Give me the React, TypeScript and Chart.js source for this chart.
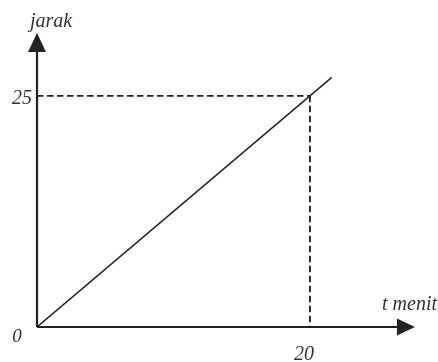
import React, { useEffect, useRef } from "react";
import { Chart, registerables } from "chart.js";

Chart.register(...registerables);

// Data
const lineT = [0, 21.6];
const lineJarak = [0, 27];
const refT = 20;
const refJarak = 25;
const xTicks = [20];
const yTicks = [25];
const originLabel = "0";
const xAxisTitle = "t menit";
const yAxisTitle = "jarak";
const xMax = 27.7;
const yMax = 31.8;

const INK = "#222";
const FONT = "italic 20px 'Liberation Serif', 'Times New Roman', serif";

const axesPlugin = {
  id: "arrowAxes",
  afterDatasetsDraw(chart: any) {
    const { ctx, scales } = chart;
    const xs = scales.x;
    const ys = scales.y;
    const ox = xs.getPixelForValue(0);
    const oy = ys.getPixelForValue(0);
    const xEnd = xs.getPixelForValue(xMax);
    const yEnd = ys.getPixelForValue(yMax);
    ctx.save();
    ctx.strokeStyle = INK;
    ctx.fillStyle = INK;
    ctx.lineWidth = 2.2;
    // y axis
    ctx.beginPath();
    ctx.moveTo(ox, oy);
    ctx.lineTo(ox, yEnd + 18);
    ctx.stroke();
    ctx.beginPath();
    ctx.moveTo(ox, yEnd);
    ctx.lineTo(ox - 9, yEnd + 19);
    ctx.lineTo(ox + 9, yEnd + 19);
    ctx.closePath();
    ctx.fill();
    // x axis
    ctx.beginPath();
    ctx.moveTo(ox, oy);
    ctx.lineTo(xEnd - 17, oy);
    ctx.stroke();
    ctx.beginPath();
    ctx.moveTo(xEnd, oy);
    ctx.lineTo(xEnd - 18, oy - 8.5);
    ctx.lineTo(xEnd - 18, oy + 8.5);
    ctx.closePath();
    ctx.fill();

    // texts
    ctx.fillStyle = "#333";
    ctx.font = FONT;
    ctx.textBaseline = "alphabetic";
    ctx.textAlign = "right";
    yTicks.forEach((v) => {
      ctx.fillText(String(v), ox - 5, ys.getPixelForValue(v) + 8);
    });
    ctx.textAlign = "center";
    xTicks.forEach((v) => {
      ctx.fillText(String(v), xs.getPixelForValue(v) - 6, oy + 33);
    });
    ctx.font = "italic 19px 'Liberation Serif', 'Times New Roman', serif";
    ctx.fillText(originLabel, ox - 20, oy + 15);
    ctx.font = FONT;
    ctx.textAlign = "center";
    ctx.fillText(yAxisTitle, ox + 14, yEnd - 6);
    ctx.textAlign = "right";
    ctx.fillText(xAxisTitle, xEnd + 22, oy - 17);
    ctx.restore();
  },
};

export default function App() {
  const ref = useRef<HTMLCanvasElement | null>(null);
  useEffect(() => {
    document.body.style.margin = "0";
    const canvas = ref.current;
    if (!canvas) return;
    const chart = new Chart(canvas, {
      type: "scatter",
      data: {
        datasets: [
          {
            data: lineT.map((t, i) => ({ x: t, y: lineJarak[i] })),
            showLine: true,
            borderColor: INK,
            borderWidth: 1.5,
            pointRadius: 0,
          },
          {
            data: [
              { x: 0, y: refJarak },
              { x: refT, y: refJarak },
            ],
            showLine: true,
            borderColor: INK,
            borderWidth: 1.9,
            borderDash: [6.5, 3.5],
            pointRadius: 0,
          },
          {
            data: [
              { x: refT, y: refJarak },
              { x: refT, y: 0 },
            ],
            showLine: true,
            borderColor: INK,
            borderWidth: 1.9,
            borderDash: [6.5, 3.5],
            pointRadius: 0,
          },
        ],
      },
      options: {
        animation: false,
        responsive: true,
        maintainAspectRatio: false,
        layout: { padding: { left: 37, right: 23, top: 33, bottom: 35 } },
        plugins: { legend: { display: false }, tooltip: { enabled: false } },
        scales: {
          x: { type: "linear", min: 0, max: xMax, display: false },
          y: { type: "linear", min: 0, max: yMax, display: false },
        },
      },
      plugins: [axesPlugin],
    });
    return () => chart.destroy();
  }, []);
  return (
    <div style={{ position: "absolute", left: 0, top: 0, width: 438, height: 362, background: "#fff" }}>
      <canvas ref={ref} />
    </div>
  );
}
